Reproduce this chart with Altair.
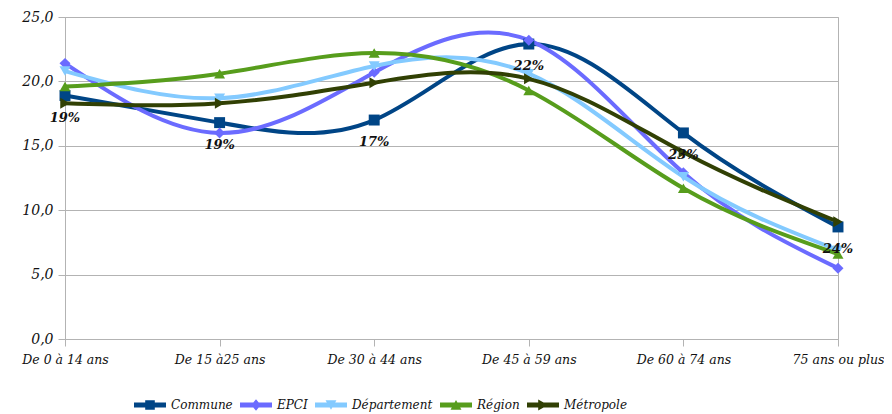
import altair as alt
import pandas as pd

categories = ["De 0 à 14 ans", "De 15 à25 ans", "De 30 à 44 ans",
              "De 45 à 59 ans", "De 60 à 74 ans", "75 ans ou plus"]
series = ["Commune", "EPCI", "Département", "Région", "Métropole"]
commune = [18.9, 16.8, 17.0, 22.9, 16.0, 8.7]
epci = [21.4, 16.0, 20.7, 23.2, 12.9, 5.5]
departement = [20.8, 18.7, 21.2, 20.6, 12.6, 6.9]
region = [19.6, 20.6, 22.2, 19.3, 11.7, 6.6]
metropole = [18.3, 18.3, 19.9, 20.2, 14.5, 9.1]
commune_labels = ["19%", "19%", "17%", "22%", "23%", "24%"]

colors = ["#004586", "#6b6bff", "#83caff", "#579d1c", "#314004"]
shapes = ["square", "diamond", "triangle-down", "triangle-up", "triangle-right"]

LINE = "M-1,-0.15L1,-0.15L1,0.15L-1,0.15Z "
legend_shapes = [
    LINE + "M-0.3,-0.3L0.3,-0.3L0.3,0.3L-0.3,0.3Z",
    LINE + "M0,-0.36L0.3,0L0,0.36L-0.3,0Z",
    LINE + "M-0.34,-0.3L0.34,-0.3L0,0.3Z",
    LINE + "M0,-0.32L0.34,0.3L-0.34,0.3Z",
    LINE + "M-0.3,-0.34L0.32,0L-0.3,0.34Z",
]

values = [commune, epci, departement, region, metropole]
rows = []
for s, vals in zip(series, values):
    for i, (c, v) in enumerate(zip(categories, vals)):
        rows.append({"serie": s, "cat": c, "val": v, "order": i})
df = pd.DataFrame(rows)
lab = pd.DataFrame({"cat": categories, "val": commune, "label": commune_labels})

FONT = "DejaVu Serif"

x = alt.X("cat:N", sort=categories, title=None,
          scale=alt.Scale(type="point", padding=0),
          axis=alt.Axis(labelAngle=0, labelFont=FONT, labelFontStyle="italic",
                        labelFontSize=12.5, labelColor="#111", labelPadding=7,
                        tickSize=7, tickColor="#b3b3b3", domainColor="#b3b3b3",
                        grid=False))
y = alt.Y("val:Q", title=None,
          scale=alt.Scale(domain=[0, 25], nice=False),
          axis=alt.Axis(values=[0, 5, 10, 15, 20, 25],
                        labelExpr="replace(format(datum.value, '.1f'), '.', ',')",
                        labelFont=FONT, labelFontStyle="italic", labelFontSize=14,
                        labelColor="#111", labelPadding=5,
                        tickSize=7, tickColor="#b3b3b3", domainColor="#b3b3b3",
                        gridColor="#b3b3b3"))

color_scale = alt.Scale(domain=series, range=colors)

base = alt.Chart(df)

lines = base.mark_line(interpolate="natural", strokeWidth=4).encode(
    x=x, y=y,
    color=alt.Color("serie:N", scale=color_scale, legend=None),
    detail="serie:N",
    order="order:Q",
)

points = base.mark_point(filled=True, opacity=1, size=120, strokeWidth=0).encode(
    x=x, y=y,
    color=alt.Color("serie:N", scale=color_scale, legend=None),
    shape=alt.Shape("serie:N", scale=alt.Scale(domain=series, range=shapes), legend=None),
)

leg = dict(title=None, orient="none", direction="horizontal",
           legendX=69, legendY=372, padding=0,
           symbolSize=1024, symbolStrokeWidth=0, symbolOpacity=1,
           labelFont=FONT, labelFontStyle="italic",
           labelFontSize=12, labelColor="#111",
           labelOffset=5, columnPadding=7)

legend_layer = base.mark_point(filled=True, opacity=1, strokeWidth=0).transform_filter(
    "false"
).encode(
    x=x, y=y,
    color=alt.Color("serie:N", scale=color_scale, legend=alt.Legend(**leg)),
    shape=alt.Shape("serie:N", scale=alt.Scale(domain=series, range=legend_shapes),
                    legend=alt.Legend(**leg)),
)

texts = alt.Chart(lab).mark_text(dy=22, font=FONT, fontStyle="italic",
                                 fontWeight="bold", fontSize=13, color="#111").encode(
    x=x, y=y, text="label:N")

chart = alt.layer(lines, points, legend_layer, texts).resolve_scale(
    color="independent", shape="independent"
).properties(
    width=773, height=322,
    padding={"left": 57, "top": 9, "right": 46, "bottom": 75},
    autosize=alt.AutoSizeParams(type="none"),
).configure_view(stroke="#b3b3b3", strokeWidth=1)

chart.save("out.html", embed_options={"renderer": "svg", "actions": False})
